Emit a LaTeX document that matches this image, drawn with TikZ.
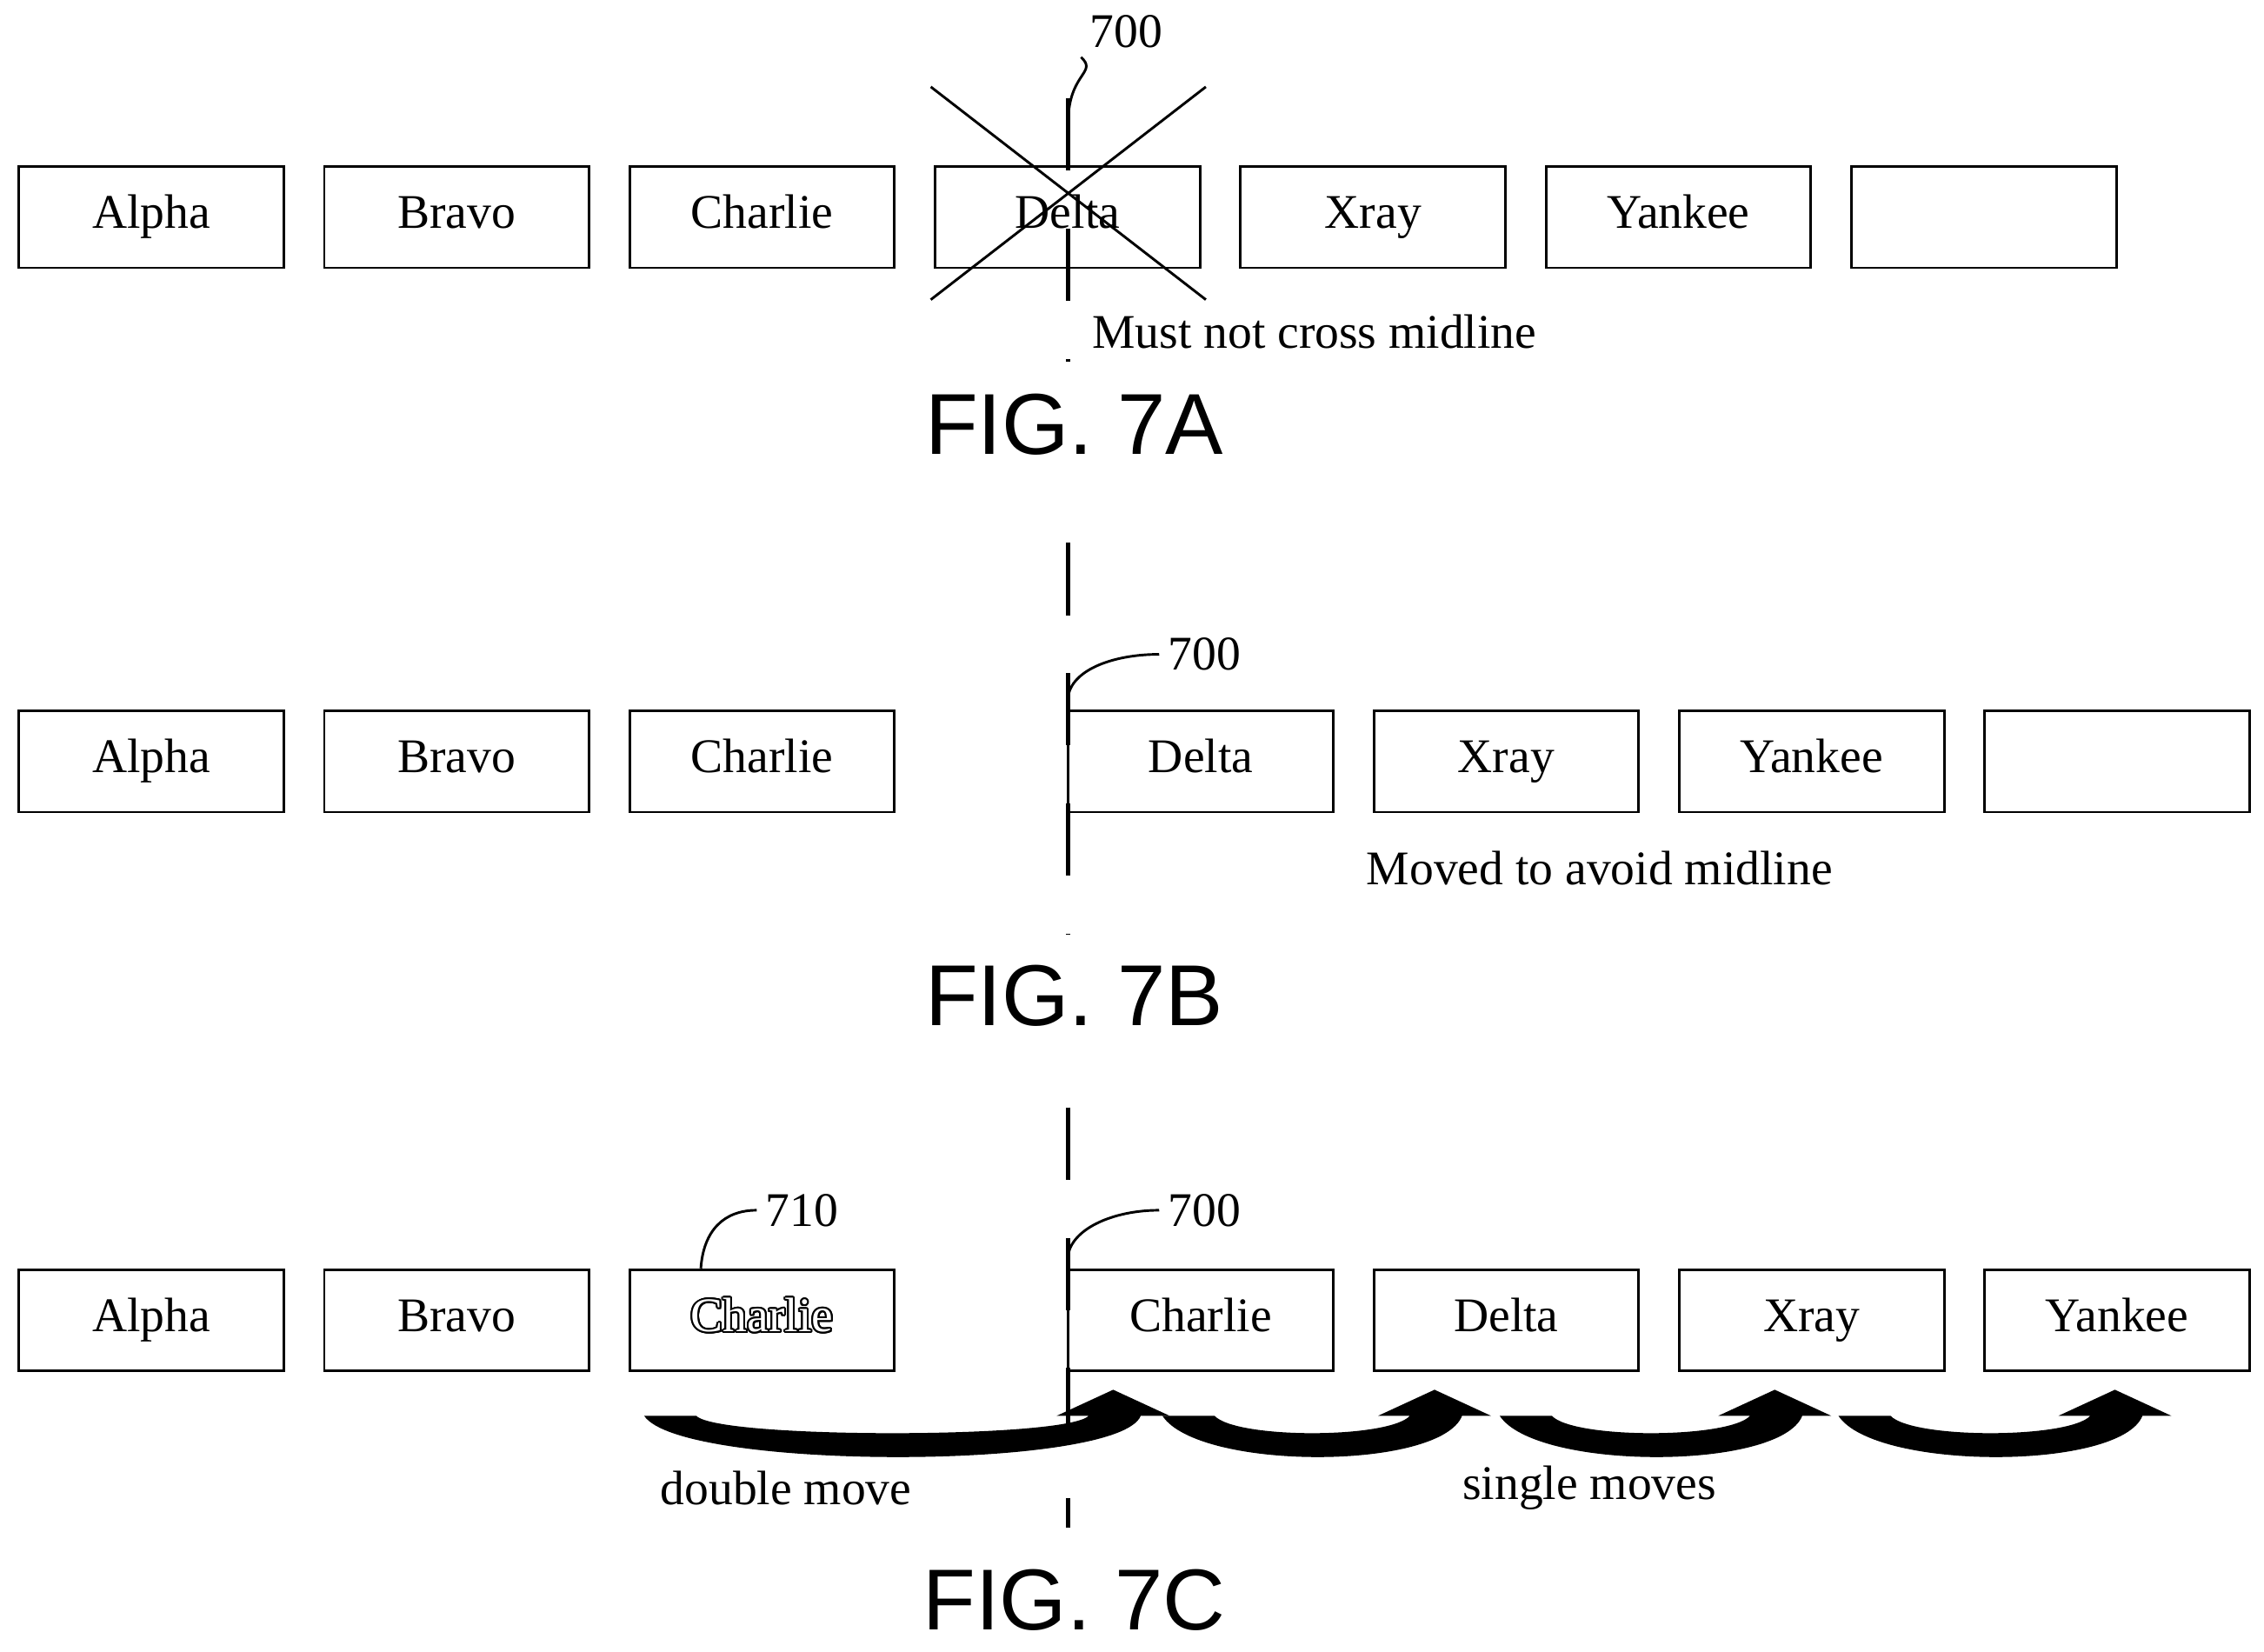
\documentclass[tikz,border=0pt]{standalone}
\usepackage{fontspec}
\setmainfont{Liberation Serif}
\newfontfamily\figfont{Liberation Sans}
\usepackage{contour}
\contourlength{0.7pt}
\usetikzlibrary{positioning}
\tikzset{
  slot/.style={draw, line width=1pt, minimum width=3.66cm, minimum height=1.4cm,
    text height=13pt, text depth=4pt, font=\fontsize{19}{23}\selectfont},
  note/.style={font=\fontsize{19}{23}\selectfont},
  fig/.style={font=\figfont\fontsize{34}{40}\selectfont},
  midline/.style={line width=1.8pt, dash pattern=on 1cm off 0.8cm},
  leader/.style={line width=1pt}
}
% crescent move arrow: left tail, right end of head (display px)
\newcommand\movearrow[2]{%
  \pgfmathsetmacro\xo{#2-20}\pgfmathsetmacro\xi{\xo-36}%
  \pgfmathsetmacro\xb{\xi-22}\pgfmathsetmacro\xt{(#2+\xb)/2}%
  \pgfmathsetmacro\xa{#1+36}%
  \fill (#1,978) .. controls (#1+25,1016) and (\xo-15,1016) .. (\xo,978)
    -- (#2,978) -- (\xt,960) -- (\xb,978) -- (\xi,978)
    .. controls (\xi-15,994) and (\xa+15,994) .. (\xa,978) -- cycle;}
\begin{document}
\begin{tikzpicture}[x=0.02cm, y=-0.02cm]
\useasboundingbox (0,0) rectangle (1564,1141);
% FIG. 7A
\foreach \n/\t [count=\i from 0] in {a/Alpha,b/Bravo,c/Charlie,d/Delta,x/Xray,y/Yankee,e/{}}
  \node[slot] (A\n) at (104.5+211*\i,150) {\t};
\draw[midline] (738,68) -- (738,250);
\draw[line width=1pt] (643,60) -- (833,207) (643,207) -- (833,60);
\node[note] (n700a) at (778,22) {700};
\coordinate (m700a) at (738,80);
\draw[leader] (m700a) .. controls (740,50) and (758,50) .. (n700a.south west);
\node[note] (mustnot) at (908,229) {Must not cross midline};
\node[fig] (figA) at (742,293) {FIG. 7A};
% FIG. 7B
\foreach \n/\t [count=\i from 0] in {a/Alpha,b/Bravo,c/Charlie}
  \node[slot] (B\n) at (104.5+211*\i,526) {\t};
\foreach \n/\t [count=\i from 0] in {d/Delta,x/Xray,y/Yankee,e/{}}
  \node[slot] (B\n) at (829.5+211*\i,526) {\t};
\draw[midline] (738,375) -- (738,645);
\node[note] (n700b) at (832,452) {700};
\coordinate (m700b) at (738,480);
\draw[leader] (m700b) .. controls (742,462) and (770,452) .. (n700b.west);
\node[note] (moved) at (1105,600) {Moved to avoid midline};
\node[fig] (figB) at (742,688) {FIG. 7B};
% FIG. 7C
\foreach \n/\t [count=\i from 0] in {a/Alpha,b/Bravo}
  \node[slot] (C\n) at (104.5+211*\i,912) {\t};
\node[slot] (Cg) at (526.5,912) {\contour{black}{\textcolor{white}{Charlie}}};
\foreach \n/\t [count=\i from 0] in {c/Charlie,d/Delta,x/Xray,y/Yankee}
  \node[slot] (C\n) at (829.5+211*\i,912) {\t};
\draw[midline] (738,765) -- (738,1055);
\node[note] (n700c) at (832,836) {700};
\coordinate (m700c) at (738,866);
\draw[leader] (m700c) .. controls (742,848) and (770,836) .. (n700c.west);
\node[note] (n710) at (554,836) {710};
\draw[leader] (Cg.north west) ++(50,0) .. controls (486,850) and (500,836) .. (n710.west);
\movearrow{445}{808}
\movearrow{803}{1030}
\movearrow{1036}{1265}
\movearrow{1270}{1500}
\node[note] (dbl) at (543,1028) {double move};
\node[note] (sgl) at (1098,1028) {single moves};
\node[fig] (figC) at (742,1105) {FIG. 7C};
\end{tikzpicture}
\end{document}
